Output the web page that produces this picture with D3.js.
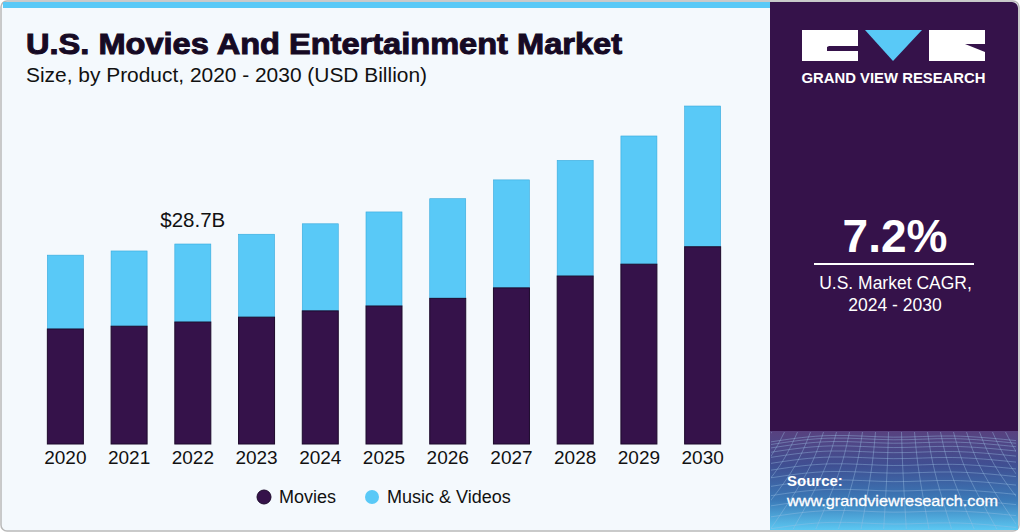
<!DOCTYPE html>
<html><head><meta charset="utf-8">
<script src="https://cdn.jsdelivr.net/npm/d3@7"></script>
<style>html,body{margin:0;padding:0;background:#fff;overflow:hidden}svg{display:block}text{font-family:"Liberation Sans",Arial,sans-serif}</style>
</head><body><svg id="c" width="1020" height="532"></svg>
<script>
const years=["2020","2021","2022","2023","2024","2025","2026","2027","2028","2029","2030"];
const movies=[16.5,16.9,17.5,18.2,19.1,19.8,20.9,22.4,24.1,25.8,28.3];
const music=[10.6,10.8,11.2,11.9,12.5,13.5,14.3,15.5,16.6,18.4,20.2];
const seriesNames=["Movies","Music & Videos"];
const colors=["#35124a","#59c9f7"];
const edge="#1d0a2c";

const svg=d3.select("#c");
const defs=svg.append("defs");
const g=defs.append("linearGradient").attr("id","foot").attr("x1",0).attr("x2",0).attr("y1",0).attr("y2",1);
[[0,"#58417f"],[.35,"#3f4f92"],[.7,"#3b7ab8"],[1,"#5cc8f2"]].forEach(d=>g.append("stop").attr("offset",d[0]).attr("stop-color",d[1]));
defs.append("clipPath").attr("id","fc").append("rect").attr("x",771).attr("y",432).attr("width",245).attr("height",97);

// panels
svg.append("rect").attr("x",1).attr("y",1).attr("width",1018).attr("height",530).attr("rx",6).attr("fill","#f4f9fd").attr("stroke","#b9b9b9").attr("stroke-width",1.5);
svg.append("rect").attr("x",3).attr("y",2).attr("width",767).attr("height",6).attr("fill","#59c9f7");
svg.append("path").attr("d","M770,2H1012a6,6 0 0 1 6,6V432H770Z").attr("fill","#35124a");
svg.append("rect").attr("x",770).attr("y",431).attr("width",248).attr("height",99).attr("fill","url(#foot)");

// footer mesh
const mesh=svg.append("g").attr("clip-path","url(#fc)").attr("fill","none").attr("stroke","#9cc0e4").attr("stroke-opacity",.5).attr("stroke-width",.8);
const lineGen=d3.line().curve(d3.curveBasis);
d3.range(0,13).forEach(i=>{
  const y=436+i*i*.42+i*2.2;
  mesh.append("path").attr("d",lineGen([[770,y+6],[830,y-3],[895,y+3],[950,y-2],[1020,y+5]]));
});
d3.range(0,22).forEach(i=>{
  const x=895+(i-10.5)*13;
  mesh.append("path").attr("d",lineGen([[x,432],[x+(i-10.5)*2,465],[x+(i-10.5)*6,500],[x+(i-10.5)*10,532]]));
});

// chart
const x=d3.scaleBand().domain(years).range([33.5,734.5]).paddingInner(.435).paddingOuter(.2175);
const y=d3.scaleLinear().domain([0,28.7]).range([444,244]);
const chart=svg.append("g");
const rows=years.map((yr,i)=>({yr,m:movies[i],v:music[i]}));
chart.selectAll("rect.mu").data(rows).join("rect").attr("class","mu")
  .attr("x",d=>x(d.yr)).attr("width",x.bandwidth())
  .attr("y",d=>y(d.m+d.v)).attr("height",d=>y(d.m)-y(d.m+d.v))
  .attr("fill",colors[1]).attr("stroke","#35a9dc").attr("stroke-width",.6);
chart.selectAll("rect.mo").data(rows).join("rect").attr("class","mo")
  .attr("x",d=>x(d.yr)).attr("width",x.bandwidth())
  .attr("y",d=>y(d.m)).attr("height",d=>y(0)-y(d.m))
  .attr("fill",colors[0]).attr("stroke",edge).attr("stroke-width",1);

const axis=d3.axisBottom(x).tickSize(0).tickPadding(8);
const ax=svg.append("g").attr("transform","translate(0,443)").call(axis);
ax.select(".domain").remove();
ax.selectAll("text").attr("font-size",19).attr("fill","#111").attr("font-family","Liberation Sans");

svg.append("text").attr("x",x("2022")+x.bandwidth()/2).attr("y",227).attr("text-anchor","middle").attr("font-size",20.5).attr("fill","#111").text("$28.7B");

// titles
svg.append("text").attr("x",26).attr("y",54).attr("font-size",30).attr("font-weight",700).attr("fill","#160a24").attr("stroke","#160a24").attr("stroke-width",1).attr("textLength",596).attr("lengthAdjust","spacingAndGlyphs").text("U.S. Movies And Entertainment Market");
svg.append("text").attr("x",26).attr("y",82).attr("font-size",20).attr("fill","#111").attr("textLength",401).attr("lengthAdjust","spacingAndGlyphs").text("Size, by Product, 2020 - 2030 (USD Billion)");

// legend
const legendX=[264,372], legendT=[279,387];
seriesNames.forEach((n,i)=>{
  svg.append("circle").attr("cx",legendX[i]).attr("cy",497).attr("r",7).attr("fill",colors[i]).attr("stroke",i?"none":edge).attr("stroke-width",1);
  svg.append("text").attr("x",legendT[i]).attr("y",503).attr("font-size",18).attr("fill","#111").text(n);
});

// logo
svg.append("path").attr("d","M802,30H858V61H802Z M827,47V51H858V46H829Z").attr("fill","#fff").attr("fill-rule","evenodd");
svg.append("path").attr("d","M865,30H922L893,61Z").attr("fill","#59c9f7");
svg.append("path").attr("d","M929,30H985V44L965,44L985,52V61H929Z").attr("fill","#fff");
svg.append("text").attr("x",893.5).attr("y",83).attr("text-anchor","middle").attr("font-size",14.5).attr("font-weight",700).attr("fill","#fff").attr("textLength",184).attr("lengthAdjust","spacingAndGlyphs").text("GRAND VIEW RESEARCH");

// CAGR
svg.append("text").attr("x",895).attr("y",252).attr("text-anchor","middle").attr("font-size",46).attr("font-weight",700).attr("fill","#fff").text("7.2%");
svg.append("rect").attr("x",814).attr("y",263).attr("width",160).attr("height",2).attr("fill","#fff");
svg.append("text").attr("x",895.5).attr("y",289).attr("text-anchor","middle").attr("font-size",17.5).attr("fill","#fff").text("U.S. Market CAGR,");
svg.append("text").attr("x",895).attr("y",311).attr("text-anchor","middle").attr("font-size",17.5).attr("fill","#fff").text("2024 - 2030");

// source
svg.append("text").attr("x",787).attr("y",486).attr("font-size",15).attr("font-weight",700).attr("fill","#fff").text("Source:");
svg.append("text").attr("x",787).attr("y",506).attr("font-size",15.5).attr("font-weight",400).attr("fill","#fff").attr("stroke","#fff").attr("stroke-width",.3).attr("textLength",211).attr("lengthAdjust","spacingAndGlyphs").text("www.grandviewresearch.com");
</script></body></html>
